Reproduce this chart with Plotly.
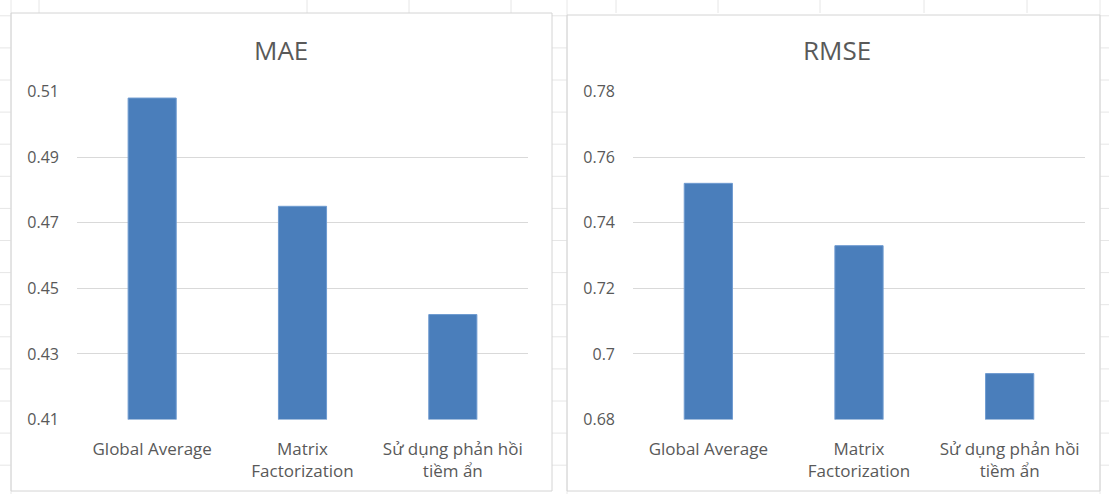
import plotly.graph_objects as go

# ---- data ----
categories = ["Global Average", "Matrix<br>Factorization", "Sử dụng phản hồi<br>tiềm ẩn"]
mae_values = [0.508, 0.475, 0.442]
rmse_values = [0.752, 0.733, 0.694]
mae_ticks = [0.41, 0.43, 0.45, 0.47, 0.49, 0.51]
mae_ticktext = ["0.41", "0.43", "0.45", "0.47", "0.49", "0.51"]
rmse_ticks = [0.68, 0.70, 0.72, 0.74, 0.76, 0.78]
rmse_ticktext = ["0.68", "0.7", "0.72", "0.74", "0.76", "0.78"]
titles = ["MAE", "RMSE"]

W, H = 1109, 494
BAR = "#4A7EBB"
GRID = "#d9d9d9"
TXT = "#595959"
FONT = "Open Sans"

def px(x):
    return x / W

def py(y):
    return 1 - y / H

fig = go.Figure()
fig.add_trace(go.Bar(x=categories, y=mae_values, xaxis="x", yaxis="y",
                     marker=dict(color=BAR, line=dict(color="#6f9bd0", width=1)),
                     hoverinfo="x+y"))
fig.add_trace(go.Bar(x=categories, y=rmse_values, xaxis="x2", yaxis="y2",
                     marker=dict(color=BAR, line=dict(color="#6f9bd0", width=1)),
                     hoverinfo="x+y"))

ydom = [py(419.5), py(91.5)]
xcommon = dict(showgrid=False, zeroline=False, showline=False, ticks="",
               automargin=False, ticklabelstandoff=17,
               tickfont=dict(family=FONT, size=17, color=TXT), fixedrange=True)
ycommon = dict(showgrid=True, gridcolor=GRID, gridwidth=1, zeroline=False,
               showline=False, ticks="", ticklabelstandoff=17, automargin=False,
               tickfont=dict(family=FONT, size=16, color=TXT), fixedrange=True)

fig.update_layout(
    width=W, height=H,
    margin=dict(l=0, r=0, t=0, b=0, pad=0, autoexpand=False),
    paper_bgcolor="white", plot_bgcolor="white",
    showlegend=False, bargap=0.68,
    xaxis=dict(domain=[px(77), px(528)], anchor="y", **xcommon),
    yaxis=dict(domain=ydom, anchor="x", range=[0.41, 0.51],
               tickvals=mae_ticks, ticktext=mae_ticktext, **ycommon),
    xaxis2=dict(domain=[px(633), px(1085)], anchor="y2", **xcommon),
    yaxis2=dict(domain=ydom, anchor="x2", range=[0.68, 0.78],
                tickvals=rmse_ticks, ticktext=rmse_ticktext, **ycommon),
)

shapes = []
# faint spreadsheet cell lines behind the charts
row_y = 15.8
while row_y < H:
    for x0, x1 in [(0, 11), (552, 567), (1100, W)]:
        shapes.append(dict(type="line", xref="paper", yref="paper",
                           x0=px(x0), x1=px(x1), y0=py(row_y), y1=py(row_y),
                           line=dict(color="#e6e6e6", width=1), layer="below"))
    row_y += 32.1
for cx in [39, 307, 409, 511, 616, 718, 820, 924, 1027]:
    shapes.append(dict(type="line", xref="paper", yref="paper",
                       x0=px(cx), x1=px(cx), y0=py(0), y1=py(13),
                       line=dict(color="#e6e6e6", width=1), layer="below"))
for cx in [11, 567, 1100]:
    shapes.append(dict(type="line", xref="paper", yref="paper",
                       x0=px(cx), x1=px(cx), y0=py(0), y1=py(H),
                       line=dict(color="#e8e8e8", width=1), layer="below"))
# chart borders
for x0, x1, y0 in [(11, 552, 13), (567, 1100, 15)]:
    shapes.append(dict(type="rect", xref="paper", yref="paper",
                       x0=px(x0), x1=px(x1), y0=py(491), y1=py(y0),
                       line=dict(color="#d4d4d4", width=1), fillcolor="rgba(0,0,0,0)"))
fig.update_layout(shapes=shapes)

for t, cx in zip(titles, [281, 837]):
    fig.add_annotation(text=t, xref="paper", yref="paper", x=px(cx), y=py(50),
                       xanchor="center", yanchor="middle", showarrow=False,
                       font=dict(family=FONT, size=26, color=TXT))

fig.write_html("out.html", config={"displayModeBar": False},
               post_script="document.body.style.margin='0';document.body.style.overflow='hidden';")
